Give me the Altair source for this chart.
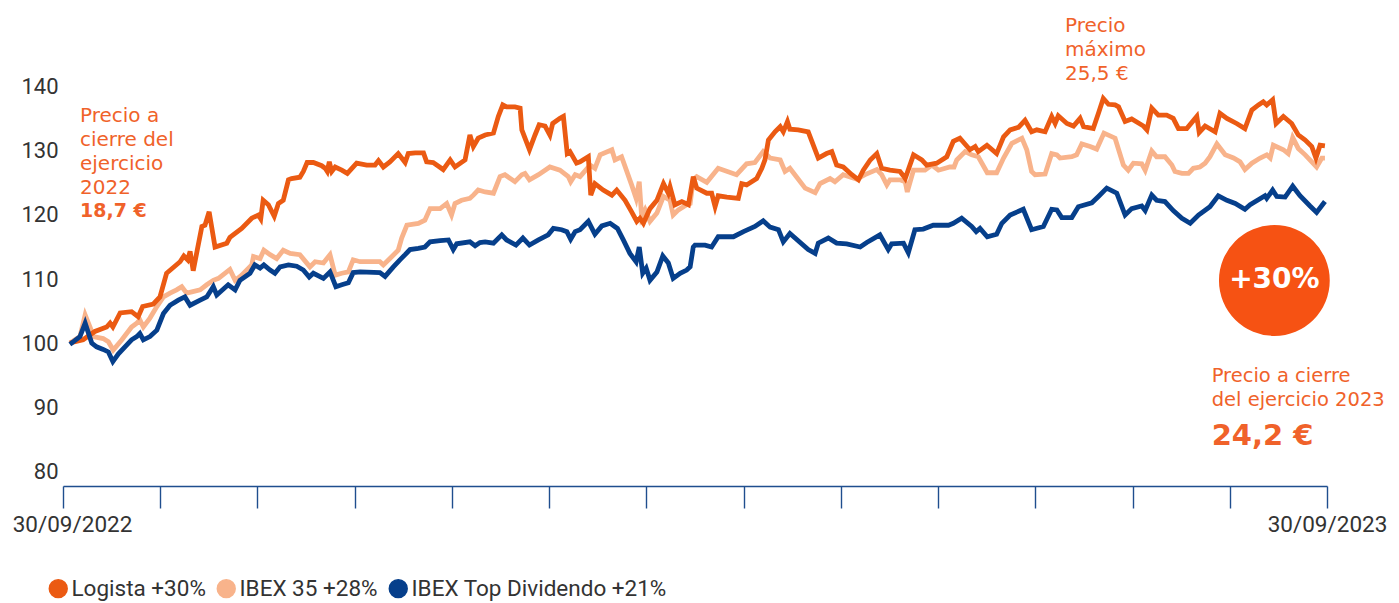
import altair as alt
import pandas as pd

SERIES = ["Logista +30%", "IBEX 35 +28%", "IBEX Top Dividendo +21%"]
COLORS = ["#EB5A12", "#F8B38B", "#063F8B"]
DRAW_ORDER = ["IBEX 35 +28%", "Logista +30%", "IBEX Top Dividendo +21%"]

# (day since 30/09/2022, base-100 value)
logista = [(2.0,100.0),(5.8,100.5),(9.2,101.8),(12.6,102.5),(13.6,103.1),(14.4,102.5),(16.5,104.7),(19.8,104.9),(21.7,104.1),(23.0,105.7),(26.1,106.1),(28.0,107.2),(29.9,110.9),(33.8,112.7),(34.9,113.6),(36.0,113.0),(36.7,114.3),(37.6,111.3),(40.1,118.2),(41.0,118.4),(42.2,120.5),(43.9,115.0),(47.3,115.6),(48.2,116.5),(51.6,117.9),(54.5,119.5),(56.4,120.0),(57.1,119.4),(57.8,122.3),(59.3,121.6),(61.0,119.8),(62.2,121.8),(63.6,122.3),(65.1,125.5),(66.0,125.7),(68.4,125.9),(69.4,126.8),(70.5,128.2),(72.3,128.2),(74.7,127.7),(75.7,127.3),(76.3,126.8),(76.9,128.3),(77.6,126.8),(78.6,127.5),(80.5,127.0),(82.1,126.5),(84.8,128.1),(87.7,127.8),(90.1,127.8),(91.1,128.5),(92.5,127.5),(94.4,128.3),(96.8,129.6),(98.8,128.2),(99.7,129.6),(101.7,129.7),(104.1,129.7),(105.0,128.3),(106.9,128.2),(109.8,127.1),(111.8,128.6),(113.2,127.5),(116.1,128.6),(117.5,132.5),(118.5,130.7),(119.9,132.0),(121.9,132.5),(124.3,132.8),(125.7,135.4),(127.0,137.2),(128.1,136.9),(130.5,136.9),(132.0,136.7),(132.5,133.3),(134.7,130.2),(136.3,132.5),(137.5,134.1),(139.2,133.9),(140.6,132.5),(141.4,134.3),(143.5,135.1),(144.5,135.4),(145.6,129.6),(146.4,129.9),(148.3,128.1),(149.3,128.3),(151.7,129.1),(152.4,123.1),(153.6,124.9),(156.0,123.9),(158.5,123.1),(159.9,123.9),(162.3,122.3),(164.2,120.5),(165.7,119.0),(166.6,119.5),(167.6,118.7),(169.5,121.0),(171.5,122.3),(173.4,124.9),(174.8,123.4),(175.3,124.4),(176.7,121.6),(178.7,122.1),(180.6,121.6),(182.0,126.0),(183.0,124.2),(185.9,123.4),(187.3,123.4),(188.3,121.3),(189.2,123.0),(191.7,122.8),(195.0,122.6),(196.0,124.9),(197.4,124.7),(200.3,125.7),(201.8,127.3),(202.7,128.6),(203.7,131.7),(205.6,133.0),(207.1,133.8),(208.0,133.0),(209.2,134.6),(209.9,133.4),(212.3,133.3),(215.2,133.0),(218.1,128.9),(220.5,129.6),(222.0,129.9),(223.4,127.8),(225.3,127.5),(227.8,126.3),(229.7,125.5),(231.1,127.0),(233.1,128.6),(235.0,129.6),(236.4,127.3),(238.8,127.0),(241.7,126.8),(242.7,126.1),(243.2,125.7),(245.6,129.4),(248.0,128.6),(249.4,127.8),(252.3,128.1),(255.2,129.1),(257.1,131.5),(259.0,132.0),(261.9,130.2),(263.4,130.7),(264.3,129.9),(266.8,130.9),(269.6,129.6),(271.6,132.2),(273.5,133.3),(275.9,133.7),(277.8,134.8),(279.7,133.0),(281.2,133.3),(283.6,133.0),(285.5,135.4),(286.5,134.3),(287.4,135.5),(289.9,134.3),(291.8,133.9),(293.7,135.1),(294.7,133.8),(297.5,133.5),(299.0,135.9),(300.4,138.2),(301.9,137.3),(303.8,137.2),(304.8,136.9),(306.7,134.6),(308.6,135.0),(312.0,133.9),(313.0,133.3),(314.4,136.7),(316.3,135.6),(318.7,135.6),(320.6,135.1),(322.1,133.5),(324.5,133.5),(327.4,135.4),(328.1,132.9),(329.8,133.9),(332.7,133.0),(334.1,135.9),(336.1,135.1),(338.9,134.3),(341.3,133.5),(343.3,136.4),(345.2,137.2),(346.6,137.7),(347.6,137.2),(349.3,138.0),(350.3,134.3),(352.4,135.4),(354.8,134.3),(356.7,132.5),(358.7,131.7),(360.6,130.7),(361.8,128.9),(363.0,130.9),(364.4,130.8)]

ibex35 = [(2.0,100.0),(4.9,101.0),(6.4,104.4),(7.8,102.5),(8.8,101.0),(11.6,100.7),(13.1,100.2),(14.5,98.9),(17.0,100.5),(19.8,102.5),(21.3,103.1),(22.2,103.6),(23.2,102.5),(25.1,103.9),(27.1,105.7),(29.0,107.2),(30.9,107.8),(32.8,108.3),(34.3,108.8),(35.7,107.8),(37.2,108.0),(39.6,108.3),(41.5,109.1),(43.4,109.8),(44.9,110.1),(48.2,111.5),(49.7,109.8),(51.6,110.6),(54.5,112.2),(55.0,113.5),(56.9,113.2),(58.0,114.5),(59.8,113.8),(61.7,113.2),(63.6,114.5),(65.6,114.0),(68.4,113.8),(71.3,111.9),(72.8,112.7),(75.2,112.5),(77.1,113.8),(78.6,110.6),(80.5,110.9),(82.4,111.1),(83.8,113.0),(85.8,112.7),(91.5,112.7),(92.5,112.2),(94.4,113.2),(96.8,114.5),(97.8,116.4),(99.3,118.4),(102.6,118.7),(104.5,119.2),(106.0,121.0),(108.9,121.0),(110.8,121.8),(112.2,120.0),(113.2,121.8),(115.1,122.3),(117.5,122.6),(118.5,123.1),(119.9,123.9),(121.9,123.6),(124.3,123.4),(126.2,126.0),(127.6,126.3),(130.5,125.2),(132.5,126.3),(133.4,126.5),(134.7,125.5),(137.3,126.3),(140.6,127.5),(143.5,127.0),(145.9,126.0),(146.6,125.2),(147.9,126.3),(149.3,126.0),(152.2,127.8),(153.6,127.3),(155.1,129.4),(158.5,130.2),(159.4,128.6),(161.3,129.1),(164.2,124.7),(165.5,122.6),(166.4,125.2),(167.1,119.7),(168.1,120.8),(169.5,119.0),(171.5,120.3),(173.4,122.9),(175.3,122.3),(176.2,120.0),(177.7,120.8),(180.1,121.6),(181.1,121.8),(182.0,125.5),(183.0,126.0),(185.9,125.1),(189.2,127.3),(194.5,126.3),(197.4,128.0),(199.8,128.2),(202.2,129.9),(204.2,128.9),(207.1,128.6),(208.5,126.8),(209.9,127.3),(214.3,124.2),(217.2,123.5),(218.6,124.9),(221.5,125.7),(222.9,125.2),(225.3,126.3),(229.2,125.6),(231.6,126.3),(235.0,127.1),(236.4,126.3),(237.9,124.7),(238.8,125.5),(241.7,125.5),(243.2,125.2),(243.8,123.6),(245.6,127.0),(248.9,127.0),(250.9,127.8),(252.8,127.0),(256.1,127.5),(257.3,127.5),(258.1,128.6),(260.5,129.9),(262.4,129.4),(264.3,129.1),(266.9,126.6),(269.6,126.6),(271.6,128.9),(274.0,131.2),(276.9,132.0),(278.3,130.2),(279.7,126.8),(280.7,126.3),(283.6,126.4),(285.5,129.6),(287.0,129.4),(287.9,128.9),(291.3,129.1),(292.7,129.4),(294.2,131.1),(296.6,130.7),(298.5,130.3),(300.6,132.8),(303.8,132.0),(306.2,127.8),(307.6,127.0),(309.1,128.1),(311.5,128.0),(312.5,127.0),(314.4,130.0),(315.8,129.1),(318.2,129.1),(320.2,127.8),(321.1,126.8),(323.1,126.5),(325.0,126.5),(326.4,127.3),(328.3,127.5),(329.8,128.1),(331.2,129.1),(333.2,131.1),(335.6,129.4),(338.0,128.9),(339.9,128.3),(341.3,127.1),(343.3,128.1),(345.7,128.9),(347.6,129.4),(348.6,128.9),(349.5,130.9),(352.4,130.2),(353.8,129.6),(355.1,132.1),(356.7,130.4),(358.7,129.4),(362.0,127.5),(363.5,128.9),(364.4,128.9)]

top_dividendo = [(2.0,99.8),(4.9,101.0),(6.4,103.1),(8.3,100.0),(9.7,99.4),(11.6,99.0),(13.1,98.6),(14.4,97.1),(16.0,98.3),(17.9,99.4),(19.8,100.5),(21.3,101.0),(22.2,101.5),(23.2,100.5),(25.1,101.0),(27.1,102.0),(29.0,104.6),(30.9,105.9),(33.3,106.7),(35.2,107.2),(36.7,105.9),(39.6,106.7),(41.5,107.2),(43.4,108.8),(44.4,107.5),(47.7,109.1),(49.7,108.3),(51.1,109.8),(54.0,110.9),(55.4,112.2),(56.9,111.7),(58.0,112.2),(59.8,111.4),(61.2,110.9),(62.7,111.9),(65.1,112.2),(67.5,112.0),(69.4,111.4),(71.1,110.3),(72.3,110.9),(75.2,110.1),(77.1,111.1),(78.8,108.8),(80.5,109.1),(82.4,109.4),(83.8,111.0),(85.8,111.1),(91.5,111.0),(93.0,110.4),(95.4,111.9),(97.3,113.0),(98.8,113.8),(100.2,114.6),(102.6,114.8),(104.5,115.0),(106.0,115.8),(108.9,116.0),(111.3,116.1),(112.7,114.6),(113.7,115.5),(117.5,115.8),(119.0,115.2),(120.4,115.7),(121.9,115.8),(124.3,115.6),(126.7,116.9),(128.1,116.1),(130.8,115.3),(132.8,116.4),(134.7,115.3),(137.3,116.1),(140.1,116.9),(141.6,117.9),(144.0,117.7),(145.5,117.4),(146.6,116.2),(147.9,117.4),(149.3,117.7),(151.7,119.0),(153.6,117.0),(155.6,118.3),(158.0,118.7),(160.1,117.9),(161.8,116.1),(163.7,114.0),(165.5,112.7),(166.4,115.0),(167.4,110.9),(168.4,111.7),(169.5,109.8),(171.5,111.1),(173.2,113.6),(174.8,112.5),(176.2,110.1),(178.2,110.9),(180.1,111.4),(181.1,111.9),(182.0,115.0),(182.5,115.3),(185.4,115.3),(187.3,115.0),(189.2,116.6),(193.6,116.6),(196.5,117.4),(199.8,118.2),(202.2,119.1),(204.2,118.1),(206.6,117.7),(208.0,115.8),(209.9,117.1),(215.2,114.6),(217.2,114.0),(218.1,115.6),(221.0,116.4),(223.4,115.6),(226.3,115.5),(230.2,115.0),(232.1,115.7),(235.9,116.9),(238.3,114.6),(239.3,115.5),(242.7,115.6),(244.1,114.1),(246.0,117.7),(248.4,117.8),(251.3,118.4),(255.7,118.4),(257.1,118.7),(259.5,119.5),(262.4,118.2),(263.7,117.4),(264.8,117.9),(266.9,116.6),(269.6,117.0),(271.1,118.7),(273.5,120.0),(277.3,120.9),(279.7,117.7),(283.1,118.2),(285.5,120.9),(287.0,120.8),(288.4,119.6),(291.3,119.6),(293.2,121.3),(297.1,121.9),(299.0,122.9),(301.4,124.2),(304.3,123.4),(306.7,120.0),(308.6,121.0),(311.5,121.4),(312.5,120.7),(314.4,123.1),(315.8,122.3),(318.2,122.1),(320.6,120.7),(323.1,119.5),(325.5,118.7),(327.9,120.0),(331.2,121.3),(333.6,123.0),(336.1,122.3),(338.5,121.8),(341.3,120.9),(342.8,121.6),(347.1,123.0),(347.6,122.6),(349.3,123.9),(350.5,122.9),(352.9,122.8),(355.1,124.5),(357.2,123.0),(360.1,121.4),(362.0,120.4),(364.4,122.1)]

Y_TICKS = [80, 90, 100, 110, 120, 130, 140]
X_LABELS = ["30/09/2022", "30/09/2023"]
N_X_INTERVALS = 13

ANN_LEFT = ["Precio a", "cierre del", "ejercicio", "2022"]
ANN_LEFT_PRICE = "18,7 €"
ANN_MAX = ["Precio", "máximo", "25,5 €"]
ANN_CLOSE = ["Precio a cierre", "del ejercicio 2023"]
ANN_CLOSE_PRICE = "24,2 €"
BADGE = "+30%"

ORANGE_TXT = "#F0622A"
BADGE_COL = "#F65213"
ANN_FONT = "DejaVu Sans"
AX_FONT = "Roboto"

rows = []
for name, pts in zip(SERIES, [logista, ibex35, top_dividendo]):
    rows += [{"serie": name, "dia": d, "valor": v} for d, v in pts]
df = pd.DataFrame(rows)

x_ticks = [i * 365 / N_X_INTERVALS for i in range(N_X_INTERVALS + 1)]
label_expr = (f"datum.value < 1 ? '{X_LABELS[0]}' : "
              f"(datum.value > 364 ? '{X_LABELS[1]}' : '')")

X = alt.X("dia:Q", title=None,
          scale=alt.Scale(domain=[0, 365], nice=False, zero=False),
          axis=alt.Axis(values=x_ticks, labelExpr=label_expr, grid=False,
                        domainColor="#1F4E8E", domainWidth=1.6,
                        tickColor="#1F4E8E", tickWidth=1.4, tickSize=22,
                        labelFont=AX_FONT, labelFontSize=22.5, labelColor="#333333",
                        labelOffset={"condition": {"test": "datum.value < 1", "value": 9},
                                     "value": 0},
                        labelPadding=5, labelFlush=False, labelOverlap=False))
Y = alt.Y("valor:Q", title=None,
          scale=alt.Scale(domain=[77.66, 152.34], nice=False, zero=False),
          axis=alt.Axis(values=Y_TICKS, grid=False, domain=False, ticks=False,
                        labelFont=AX_FONT, labelFontSize=22, labelColor="#333333",
                        labelPadding=5))
C = alt.Color("serie:N", scale=alt.Scale(domain=SERIES, range=COLORS),
              legend=alt.Legend(title=None, orient="none", direction="horizontal",
                                legendX=-16, legendY=569,
                                symbolType="circle", symbolSize=320,
                                symbolOpacity=1,
                                labelFont=AX_FONT, labelFontSize=22.5,
                                labelColor="#333333", labelLimit=500,
                                labelOffset=2, columnPadding=8))

base = alt.Chart(df).encode(x=X, y=Y, color=C)
legend_pts = base.mark_point(filled=True, size=0, opacity=1, strokeWidth=0)
line_layers = [base.transform_filter(alt.datum.serie == s).mark_line(strokeWidth=4.8)
               for s in DRAW_ORDER]


def text_layer(lines, day, first_val, step, size, bold, color, align="left"):
    tdf = pd.DataFrame({"dia": [day] * len(lines),
                        "valor": [first_val - i * step for i in range(len(lines))],
                        "t": lines})
    return alt.Chart(tdf).mark_text(align=align, baseline="alphabetic", font=ANN_FONT,
                                    fontSize=size, fontWeight="bold" if bold else "normal",
                                    color=color).encode(
        x=alt.X("dia:Q"), y=alt.Y("valor:Q"), text="t:N")


step = 24 / 6.4
ann = [
    text_layer(ANN_LEFT, 4.9, 134.53, step, 20, False, ORANGE_TXT),
    text_layer([ANN_LEFT_PRICE], 4.9, 119.61, step, 19, True, ORANGE_TXT),
    text_layer(ANN_MAX, 289.35, 148.64, step, 20, False, ORANGE_TXT),
    text_layer(ANN_CLOSE, 331.7, 93.86, step, 19.5, False, ORANGE_TXT),
    text_layer([ANN_CLOSE_PRICE], 331.7, 84.06, step, 29, True, ORANGE_TXT),
]

badge_df = pd.DataFrame({"dia": [349.8], "valor": [109.77], "t": [BADGE]})
badge = alt.Chart(badge_df).mark_circle(size=12272, color=BADGE_COL, opacity=1).encode(
    x=alt.X("dia:Q"), y=alt.Y("valor:Q"))
badge_txt = alt.Chart(badge_df).mark_text(font=ANN_FONT, fontSize=28, fontWeight="bold",
                                          color="white", baseline="middle").encode(
    x=alt.X("dia:Q"), y=alt.Y("valor:Q"), text="t:N")

chart = alt.layer(legend_pts, *line_layers, badge, badge_txt, *ann).properties(
    width=1264, height=478,
    autosize=alt.AutoSizeParams(type="none"),
    padding={"left": 55, "top": 0, "right": 64, "bottom": 117},
).configure_view(stroke=None)

chart.save("out.html", embed_options={"renderer": "svg", "actions": False})
